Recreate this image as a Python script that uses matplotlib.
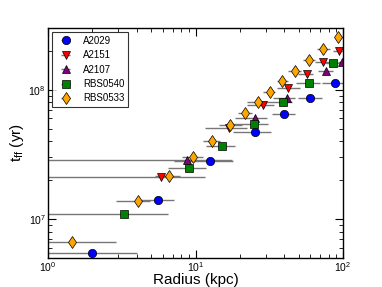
import numpy as np
import matplotlib
matplotlib.use("Agg")
import matplotlib.pyplot as plt
from matplotlib.ticker import LogLocator, NullFormatter

plt.rcParams["font.family"] = "Liberation Sans"
plt.rcParams["mathtext.fontset"] = "custom"
plt.rcParams["mathtext.rm"] = "Liberation Sans"
plt.rcParams["mathtext.it"] = "Liberation Sans:italic"

# radius (kpc), free-fall time (yr), radial bin edges (kpc)
a2029_r = [2.0, 5.6, 12.6, 25.3, 39.8, 59.7, 88.7]
a2029_t = [5.5e6, 1.41e7, 2.8e7, 4.75e7, 6.52e7, 8.7e7, 1.13e8]
a2029_lo = [0.1, 4.2, 7.1, 17.9, 32.9, 49.3, 71.8]
a2029_hi = [4.0, 7.2, 17.9, 32.3, 47.2, 71.8, 120]

a2151_r = [5.8, 16.8, 28.8, 42.6, 56.7, 73.6, 93.5]
a2151_t = [2.1e7, 5.05e7, 7.65e7, 1.04e8, 1.32e8, 1.63e8, 2.0e8]
a2151_lo = [0.1, 11.6, 22.2, 35.5, 49.3, 64.5, 86.0]
a2151_hi = [11.6, 22.2, 34.1, 51.1, 62.6, 83.7, 110]

a2107_r = [8.7, 25.4, 41.5, 76.7, 98.0]
a2107_t = [2.87e7, 6.0e7, 8.6e7, 1.39e8, 1.65e8]
a2107_lo = [0.1, 18.5, 33.6, 67.5, 92.0]
a2107_hi = [17.6, 30.4, 47.2, 85.0, 115]

rbs0540_r = [3.29, 9.1, 15.2, 24.9, 39.4, 58.8, 86.0]
rbs0540_t = [1.09e7, 2.48e7, 3.7e7, 5.48e7, 8.03e7, 1.13e8, 1.61e8]
rbs0540_lo = [0.1, 6.5, 11.7, 17.6, 30.6, 48.3, 75.5]
rbs0540_hi = [6.5, 11.7, 18.5, 31.0, 44.9, 69.9, 97.8]

rbs0533_r = [1.45, 4.1, 6.65, 9.57, 13.0, 17.1, 21.8, 26.7, 31.8, 38.6, 47.3, 58.8, 73.6, 92.5]
rbs0533_t = [6.64e6, 1.39e7, 2.15e7, 3.04e7, 4.04e7, 5.3e7, 6.63e7, 8.07e7,
             9.64e7, 1.16e8, 1.39e8, 1.71e8, 2.08e8, 2.56e8]
rbs0533_lo = [0.1, 2.89, 5.3, 8.06, 11.2, 14.5, 19.4, 22.2, 28.7, 35.5, 42.2, 53.9, 66.2, 88.0]
rbs0533_hi = [2.89, 4.9, 7.86, 11.2, 14.6, 20.5, 24.0, 30.4, 34.5, 42.4, 52.2, 64.5, 81.9, 105]

series = [
    ("A2029", a2029_r, a2029_t, a2029_lo, a2029_hi, "o", "#0000ff", 6.0),
    ("A2151", a2151_r, a2151_t, a2151_lo, a2151_hi, "v", "#ff0000", 6.0),
    ("A2107", a2107_r, a2107_t, a2107_lo, a2107_hi, "^", "#800080", 6.0),
    ("RBS0540", rbs0540_r, rbs0540_t, rbs0540_lo, rbs0540_hi, "s", "#008000", 5.5),
    ("RBS0533", rbs0533_r, rbs0533_t, rbs0533_lo, rbs0533_hi, "d", "#ffa500", 6.0),
]

fig = plt.figure(figsize=(3.82, 2.87), dpi=100)
ax = fig.add_axes([0.1257, 0.101, 0.7723, 0.8014])

for label, r, t, lo, hi, mk, col, ms in series:
    r = np.array(r)
    xerr = [r - np.array(lo), np.array(hi) - r]
    ax.errorbar(r, t, xerr=xerr, fmt=mk, color=col, mfc=col, mec="black",
                mew=0.5, ms=ms, ecolor="#777777", elinewidth=1.0, capsize=0,
                label=label)

ax.set_xscale("log")
ax.set_yscale("log")
ax.set_xlim(1, 100)
ax.set_ylim(5e6, 3e8)

ax.tick_params(which="both", direction="in", top=True, right=True, labelsize=7.5, pad=1.5)
ax.tick_params(which="major", length=6, width=0.8)
ax.tick_params(which="minor", length=3, width=0.6)
ax.yaxis.set_minor_locator(LogLocator(base=10, subs=np.arange(2, 10)))
ax.yaxis.set_minor_formatter(NullFormatter())
ax.xaxis.set_minor_formatter(NullFormatter())
for s in ax.spines.values():
    s.set_linewidth(1.0)

ax.set_xlabel("Radius (kpc)", fontsize=11, labelpad=-1)
ax.set_ylabel(r"t$_{\rm ff}$ (yr)", fontsize=11, labelpad=2)

leg = ax.legend(loc="upper left", fontsize=7, frameon=True, fancybox=False,
                edgecolor="black", borderaxespad=0.4, handlelength=2.0,
                labelspacing=0.45, borderpad=0.4)
leg.get_frame().set_linewidth(0.8)

fig.savefig("out.png", dpi=100)
